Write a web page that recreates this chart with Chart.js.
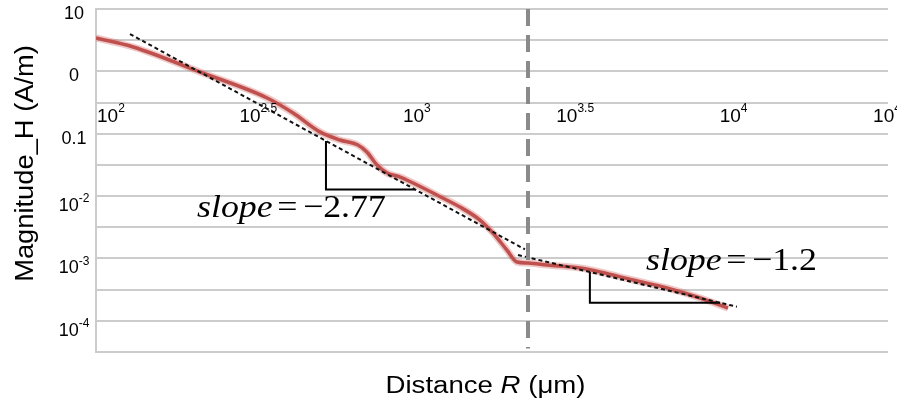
<!DOCTYPE html>
<html>
<head>
<meta charset="utf-8">
<script src="https://cdn.jsdelivr.net/npm/chart.js@4.4.1/dist/chart.umd.min.js"></script>
<style>
  html, body { margin: 0; padding: 0; background: #ffffff; }
  #wrap { width: 897px; height: 402px; }
</style>
</head>
<body>
<div id="wrap"><canvas id="chart" width="897" height="402"></canvas></div>
<script>
// Field magnitude H against distance R, log-log
const distanceUm = [100, 131, 213, 347, 419, 509, 589, 671, 716, 771, 830, 912, 1002, 1191, 1409,
                    1629, 1791, 1982, 2133, 2312, 2655, 3373, 3899, 4955, 6339, 8072, 9886];
const magnitudeH = [3.43, 2.46, 0.977, 0.374, 0.215, 0.107, 0.0793, 0.0659, 0.0509, 0.0315, 0.0234,
                    0.0202, 0.0162, 0.0104, 0.00668, 0.00413, 0.00256, 0.00136, 0.000877, 0.000845,
                    0.000785, 0.000703, 0.000607, 0.000451, 0.000336, 0.000232, 0.000160];

// Power-law fits: exponent, anchor point and end distance
const fitSlopes = [-2.77, -1.2];
const fitStartR = [128, 2148];
const fitStartH = [3.97, 0.001135];
const fitEndR   = [2259, 10544];

// Slope triangles under each fit (left / right distance)
const triLeftR  = [532, 3622];
const triRightR = [1016, 9333];

// Region boundary
const boundaryR = [2310, 2310];
const boundaryH = [10, 0.000036];

// Axis ticks
const xTickValues = [100, 316.2, 1000, 3162, 10000, 31623];
const xTickLabels = ['10^2', '10^2.5', '10^3', '10^3.5', '10^4', '10^4.5'];
const yTickValues = [10, 3.162, 1, 0.3162, 0.1, 0.03162, 0.01, 0.003162, 0.001, 0.0003162, 0.0001, 0.00003162];
const yTickLabels = ['10', '', '0', '', '0.1', '', '10^-2', '', '10^-3', '', '10^-4', ''];

const xTitleParts = [['Distance ', ''], ['R', 'italic '], [' (\u03bcm)', '']];
const yTitle = 'Magnitude_H (A/m)';

const SANS = '"Liberation Sans", Arial, sans-serif';
const SERIF = '"Liberation Serif", "Times New Roman", serif';

function fitH(i, r) {
  return fitStartH[i] * Math.pow(r / fitStartR[i], fitSlopes[i]);
}
function fitLine(i) {
  return [{ x: fitStartR[i], y: fitStartH[i] }, { x: fitEndR[i], y: fitH(i, fitEndR[i]) }];
}
function triangle(i) {
  const yb = fitH(i, triRightR[i]);
  return [{ x: triLeftR[i], y: fitH(i, triLeftR[i]) }, { x: triLeftR[i], y: yb }, { x: triRightR[i], y: yb }];
}
function slopeText(s) {
  return (s < 0 ? '\u2212' : '') + Math.abs(s);
}

const curve = distanceUm.map((r, i) => ({ x: r, y: magnitudeH[i] }));

// Measure and draw "base^sup" labels with a raised superscript
function measurePow(ctx, label, size, supSize) {
  const [base, sup] = label.split('^');
  ctx.font = size + 'px ' + SANS;
  const wb = ctx.measureText(base).width;
  ctx.font = supSize + 'px ' + SANS;
  const ws = sup ? ctx.measureText(sup).width : 0;
  return { base, sup, wb, ws, w: wb + ws };
}
function drawPow(ctx, m, left, y, size, supSize, rise) {
  ctx.textBaseline = 'middle';
  ctx.textAlign = 'left';
  ctx.font = size + 'px ' + SANS;
  ctx.fillText(m.base, left, y);
  if (m.sup) {
    ctx.font = supSize + 'px ' + SANS;
    ctx.fillText(m.sup, left + m.wb, y - rise);
  }
}

const textPlugin = {
  id: 'texts',
  afterDraw(chart) {
    const ctx = chart.ctx;
    const area = chart.chartArea;
    const xs = chart.scales.x;
    const ys = chart.scales.y;
    ctx.save();
    ctx.fillStyle = '#000000';

    // y tick labels
    yTickValues.forEach((v, i) => {
      const lab = yTickLabels[i];
      if (!lab) return;
      const m = measurePow(ctx, lab, 18, 12);
      const y = ys.getPixelForValue(v) + (m.sup ? 10 : 5);
      drawPow(ctx, m, area.left - 22 - m.w / 2, y, 18, 12, 7);
    });

    // x tick labels, drawn inside the plot
    xTickValues.forEach((v, i) => {
      const m = measurePow(ctx, xTickLabels[i], 19, 12);
      const cx = xs.getPixelForValue(v) + 4;
      const left = Math.max(cx - m.w / 2, area.left + 1);
      drawPow(ctx, m, left, area.top + 108, 19, 12, 8);
    });

    // x title with italic R
    ctx.save();
    const sxT = 1.2;
    let total = 0;
    const widths = xTitleParts.map(([t, st]) => {
      ctx.font = st + '23px ' + SANS;
      const w = ctx.measureText(t).width;
      total += w;
      return w;
    });
    ctx.translate((area.left + area.right) / 2 - 6.5 - total * sxT / 2, area.bottom + 41);
    ctx.scale(sxT, 1);
    ctx.textBaseline = 'alphabetic';
    ctx.textAlign = 'left';
    let px = 0;
    xTitleParts.forEach(([t, st], i) => {
      ctx.font = st + '23px ' + SANS;
      ctx.fillText(t, px, 0);
      px += widths[i];
    });
    ctx.restore();

    // y title
    ctx.save();
    ctx.translate(33, area.top + 154.5);
    ctx.rotate(-Math.PI / 2);
    ctx.scale(1.05, 1);
    ctx.font = '26px ' + SANS;
    ctx.textAlign = 'center';
    ctx.textBaseline = 'alphabetic';
    ctx.fillText(yTitle, 0, 0);
    ctx.restore();

    // slope annotations
    const slopePos = [[197, 217], [646, 270]];
    fitSlopes.forEach((s, i) => {
      ctx.save();
      ctx.translate(slopePos[i][0], slopePos[i][1]);
      ctx.scale(1.12, 1);
      ctx.textBaseline = 'alphabetic';
      ctx.textAlign = 'left';
      ctx.font = 'italic 32px ' + SERIF;
      ctx.fillText('slope', 0, 0);
      let x = ctx.measureText('slope').width + 4;
      ctx.font = '32px ' + SERIF;
      ctx.fillText('=', x, 0);
      x += ctx.measureText('=').width + 5;
      ctx.fillText(slopeText(s), x, 0);
      ctx.restore();
    });

    ctx.restore();
  }
};

new Chart(document.getElementById('chart'), {
  type: 'line',
  data: {
    datasets: [
      {
        data: boundaryR.map((r, i) => ({ x: r, y: boundaryH[i] })),
        borderColor: '#8a8a8a', borderWidth: 4, borderDash: [17, 9],
        borderCapStyle: 'butt', pointRadius: 0, order: 0
      },
      {
        data: fitLine(0), borderColor: '#111111', borderWidth: 2, borderDash: [4, 3],
        pointRadius: 0, order: 1
      },
      {
        data: fitLine(1), borderColor: '#111111', borderWidth: 2, borderDash: [4, 3],
        pointRadius: 0, order: 1
      },
      {
        data: triangle(0), borderColor: '#000000', borderWidth: 2, pointRadius: 0,
        borderJoinStyle: 'miter', order: 2
      },
      {
        data: triangle(1), borderColor: '#000000', borderWidth: 2, pointRadius: 0,
        borderJoinStyle: 'miter', order: 2
      },
      {
        data: curve, borderColor: 'rgb(192,80,77)', borderWidth: 3.5, pointRadius: 0,
        cubicInterpolationMode: 'monotone', order: 3
      },
      {
        data: curve, borderColor: 'rgba(205,100,96,0.35)', borderWidth: 7, pointRadius: 0,
        cubicInterpolationMode: 'monotone', order: 4
      }
    ]
  },
  options: {
    responsive: false,
    animation: false,
    events: [],
    layout: { padding: { left: 96, right: 9, top: 9, bottom: 50 } },
    plugins: { legend: { display: false }, tooltip: { enabled: false } },
    scales: {
      x: {
        type: 'logarithmic',
        min: xTickValues[0],
        max: xTickValues[xTickValues.length - 1],
        display: false
      },
      y: {
        type: 'logarithmic',
        min: yTickValues[yTickValues.length - 1],
        max: yTickValues[0],
        afterBuildTicks: (s) => { s.ticks = yTickValues.map(v => ({ value: v })); },
        afterFit: (s) => { s.width = 0; },
        ticks: { display: false },
        grid: { color: '#cccccc', lineWidth: 2, drawTicks: false },
        border: { display: true, color: '#cccccc', width: 2 }
      }
    }
  },
  plugins: [textPlugin]
});
</script>
</body>
</html>
